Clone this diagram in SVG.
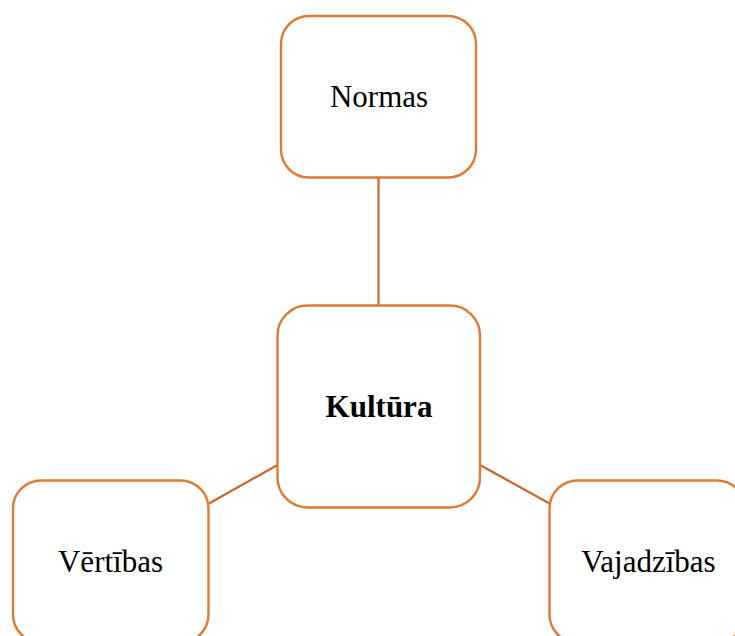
<svg xmlns="http://www.w3.org/2000/svg" width="735" height="636" viewBox="0 0 735 636">
<style>
.box{fill:#fff;stroke:#DE7A34;stroke-width:2.4}
.con{stroke:#C8692C;stroke-width:2.2;fill:none}
.t{font-family:"Liberation Serif","Times New Roman",serif;font-size:31px;fill:#000;text-anchor:middle}
.b{font-weight:bold}
</style>
<rect width="735" height="636" fill="#fff"/>
<g id="connectors">
<line class="con" x1="378.5" y1="178" x2="378.5" y2="305"/>
<line class="con" x1="209" y1="503.5" x2="277.5" y2="465"/>
<line class="con" x1="480" y1="465" x2="549.5" y2="503.5"/>
</g>
<g id="normas">
<rect class="box" x="281" y="16" width="195" height="161.5" rx="28"/>
<text class="t" x="379" y="107">Normas</text>
</g>
<g id="kultura">
<rect class="box" x="277.5" y="305.5" width="202.5" height="202" rx="30"/>
<text class="t b" x="379" y="417">Kultūra</text>
</g>
<g id="vertibas">
<rect class="box" x="13" y="480.5" width="195.5" height="162" rx="28"/>
<text class="t" x="110.5" y="572">Vērtības</text>
</g>
<g id="vajadzibas">
<rect class="box" x="549.5" y="480.5" width="195.5" height="162" rx="28"/>
<text class="t" x="648.5" y="572">Vajadzības</text>
</g>
</svg>
